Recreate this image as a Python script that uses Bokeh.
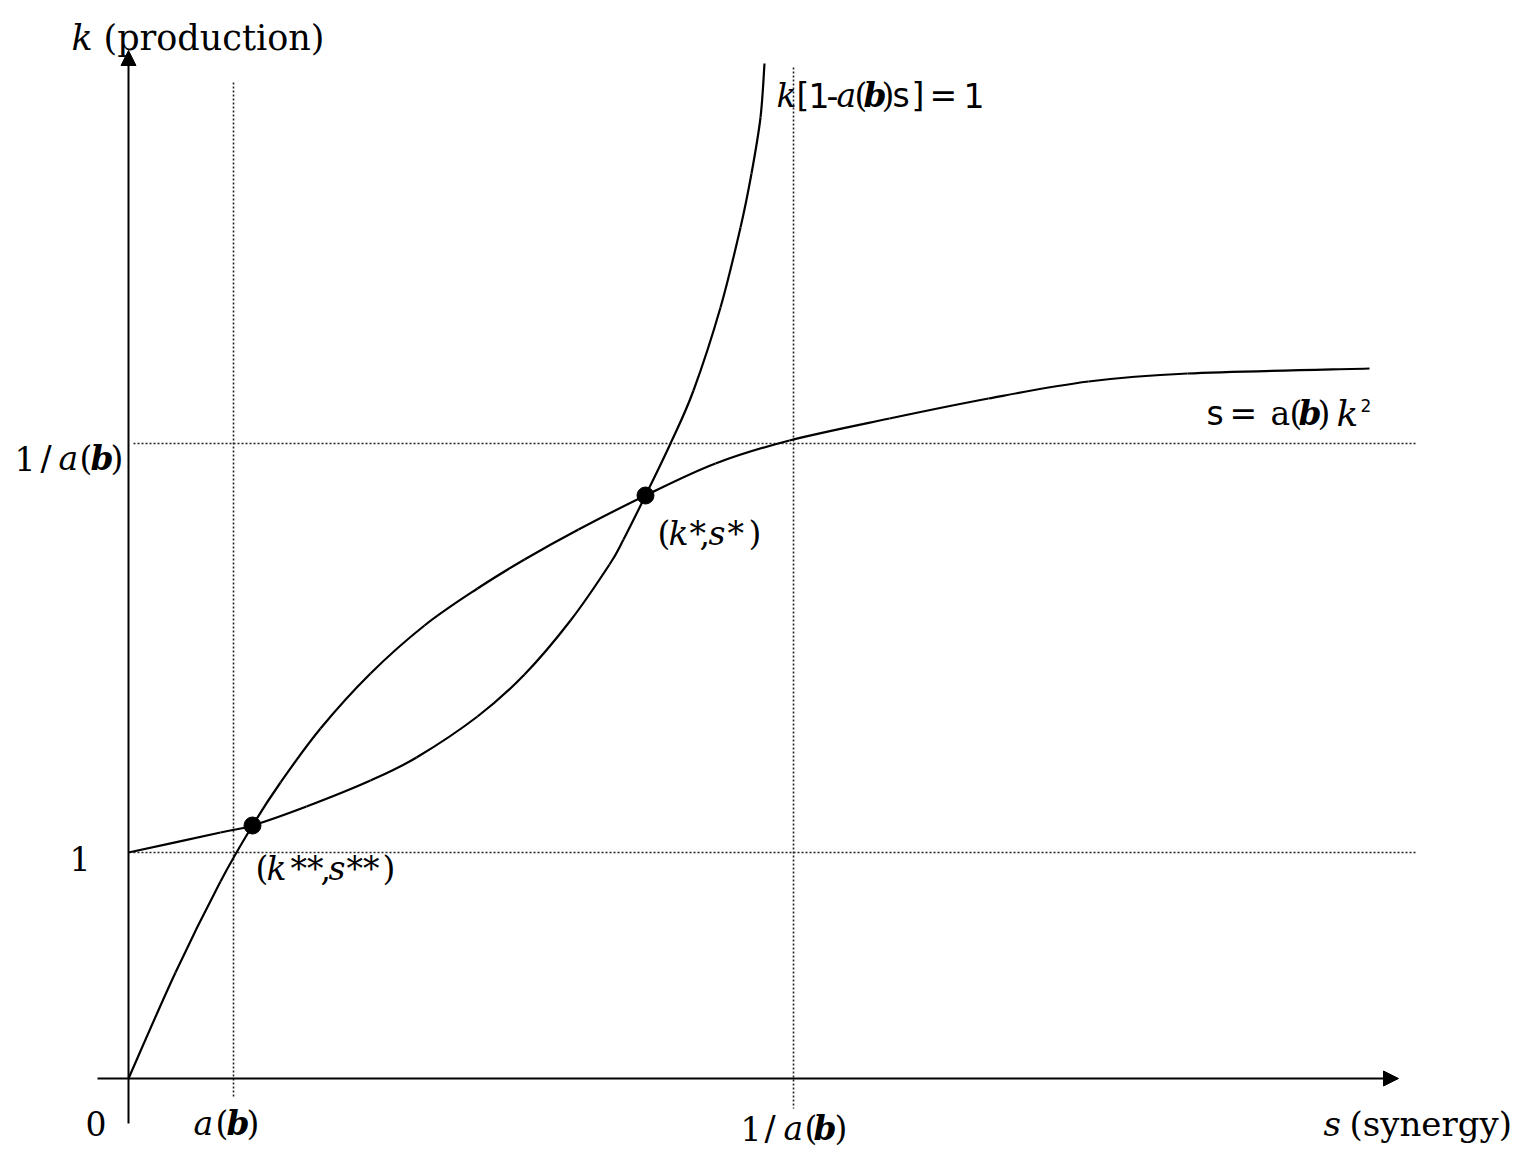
from bokeh.plotting import figure
from bokeh.models import Range1d, Arrow, NormalHead
from bokeh.core.properties import value
from bokeh.embed import file_html
from bokeh.resources import INLINE

# ---- data (s = synergy on x, k = production on y; arbitrary diagram units) ----
# curve  s = a(b) k^2
curveA_s = [0, 0.47, 0.92, 1.24, 1.52, 1.92, 2.42, 2.96, 3.49, 3.96, 4.50, 5.17,
            5.87, 6.61, 7.61, 8.60, 9.60, 10.59, 12.41]
curveA_k = [0, 1.06, 1.97, 2.53, 2.96, 3.50, 4.05, 4.53, 4.90, 5.19, 5.49, 5.83,
            6.15, 6.38, 6.60, 6.80, 6.97, 7.05, 7.10]
# curve  k[1 - a(b) s] = 1
curveB_s = [0, 0.92, 1.24, 1.78, 2.42, 2.88, 3.49, 3.96, 4.42, 4.81, 4.95, 5.17,
            5.42, 5.65, 5.92, 6.12, 6.23, 6.32, 6.36]
curveB_k = [2.26, 2.46, 2.53, 2.72, 2.98, 3.21, 3.62, 4.04, 4.58, 5.14, 5.39, 5.83,
            6.35, 6.88, 7.71, 8.51, 9.05, 9.61, 10.15]
# equilibria (k**, s**) and (k*, s*)
eq_s = [1.24, 5.17]
eq_k = [2.53, 5.83]
# reference levels
s_a_b = 1.05        # a(b) on the s axis
s_inv_a_b = 6.65    # 1/a(b) on the s axis
k_one = 2.26        # k = 1
k_inv_a_b = 6.35    # k = 1/a(b)

W, H = 1528, 1151
p = figure(width=W, height=H, output_backend="svg", toolbar_location=None,
           x_range=Range1d(-1.28, 14.00), y_range=Range1d(-0.73, 10.78),
           x_axis_location=None, y_axis_location=None, min_border=0)
p.grid.visible = False
p.outline_line_color = None
p.background_fill_color = "white"
p.border_fill_color = "white"

# dotted guide lines
dot_kw = dict(line_color="#222222", line_width=1.6, line_dash="2 2")
p.segment(x0=[s_a_b], y0=[9.96], x1=[s_a_b], y1=[-0.20], **dot_kw)
p.segment(x0=[s_inv_a_b], y0=[10.11], x1=[s_inv_a_b], y1=[-0.30], **dot_kw)
p.segment(x0=[0.05], y0=[k_inv_a_b], x1=[12.87], y1=[k_inv_a_b], **dot_kw)
p.segment(x0=[0.05], y0=[k_one], x1=[12.87], y1=[k_one], **dot_kw)

# axes with arrows
for xs, ys, xe, ye in [(0, -0.45, 0, 10.28), (-0.31, 0, 12.70, 0)]:
    p.add_layout(Arrow(x_start=xs, y_start=ys, x_end=xe, y_end=ye, line_width=2,
                       line_color="black",
                       end=NormalHead(size=15, fill_color="black", line_color="black",
                                      line_width=1)))


def smooth_curve(xs, ys):
    """Draw a smooth (Catmull-Rom style) path through the given points."""
    n = len(xs)
    px = [xs[0]] + list(xs) + [xs[-1]]
    py = [ys[0]] + list(ys) + [ys[-1]]
    x0, y0, x1, y1, cx0, cy0, cx1, cy1 = ([] for _ in range(8))
    for i in range(n - 1):
        a, b, c, d = i, i + 1, i + 2, i + 3
        x0.append(px[b]); y0.append(py[b])
        x1.append(px[c]); y1.append(py[c])
        cx0.append(px[b] + (px[c] - px[a]) / 6.0)
        cy0.append(py[b] + (py[c] - py[a]) / 6.0)
        cx1.append(px[c] - (px[d] - px[b]) / 6.0)
        cy1.append(py[c] - (py[d] - py[b]) / 6.0)
    p.bezier(x0=x0, y0=y0, x1=x1, y1=y1, cx0=cx0, cy0=cy0, cx1=cx1, cy1=cy1,
             line_color="black", line_width=2.2)


smooth_curve(curveA_s, curveA_k)
smooth_curve(curveB_s, curveB_k)
p.scatter(eq_s, eq_k, size=17, fill_color="black", line_color="black")

SERIF = "DejaVu Serif"
SANS = "DejaVu Sans"
FS = "33px"

labels = [
    # y-axis title
    (-0.57, 10.41, "k", SERIF, "italic", "35px"),
    (-0.25, 10.41, "(production)", SERIF, "normal", "35px"),
    # left ticks
    (-1.14, 6.20, "1", SERIF, "normal", FS),
    (-0.88, 6.20, "/", SANS, "normal", FS),
    (-0.70, 6.20, "a", SERIF, "italic", FS),
    (-0.49, 6.20, "(", SERIF, "normal", FS),
    (-0.38, 6.20, "b", SERIF, "bold italic", FS),
    (-0.18, 6.20, ")", SERIF, "normal", FS),
    (-0.59, 2.20, "1", SERIF, "normal", FS),
    (-0.43, -0.45, "0", SERIF, "normal", FS),
    # bottom ticks
    (0.65, -0.45, "a", SERIF, "italic", FS),
    (0.87, -0.45, "(", SERIF, "normal", FS),
    (0.98, -0.45, "b", SERIF, "bold italic", FS),
    (1.18, -0.45, ")", SERIF, "normal", FS),
    (6.12, -0.50, "1", SERIF, "normal", FS),
    (6.36, -0.50, "/", SANS, "normal", FS),
    (6.55, -0.50, "a", SERIF, "italic", FS),
    (6.76, -0.50, "(", SERIF, "normal", FS),
    (6.85, -0.50, "b", SERIF, "bold italic", FS),
    (7.06, -0.50, ")", SERIF, "normal", FS),
    # x-axis title
    (11.95, -0.45, "s", SERIF, "italic", "34px"),
    (12.21, -0.45, "(synergy)", SERIF, "normal", "34px"),
    # curve label k[1-a(b)s] = 1
    (6.48, 9.83, "k", SERIF, "italic", FS),
    (6.68, 9.83, "[", SANS, "normal", FS),
    (6.80, 9.83, "1", SANS, "normal", FS),
    (6.98, 9.83, "-", SANS, "normal", FS),
    (7.08, 9.83, "a", SERIF, "italic", FS),
    (7.26, 9.83, "(", SERIF, "normal", FS),
    (7.35, 9.83, "b", SERIF, "bold italic", FS),
    (7.53, 9.83, ")", SERIF, "normal", FS),
    (7.64, 9.83, "s", SANS, "normal", FS),
    (7.83, 9.83, "]", SANS, "normal", FS),
    (8.01, 9.83, "=", SANS, "normal", FS),
    (8.35, 9.83, "1", SANS, "normal", FS),
    # curve label s = a(b)k^2
    (10.78, 6.65, "s", SANS, "normal", FS),
    (11.01, 6.65, "=", SANS, "normal", FS),
    (11.42, 6.65, "a", SERIF, "normal", FS),
    (11.61, 6.65, "(", SERIF, "normal", FS),
    (11.70, 6.65, "b", SERIF, "bold italic", FS),
    (11.89, 6.65, ")", SERIF, "normal", FS),
    (12.08, 6.65, "k", SERIF, "italic", "36px"),
    (12.32, 6.73, "2", SANS, "normal", "17px"),
    # (k*, s*)
    (5.29, 5.45, "(", SERIF, "normal", FS),
    (5.40, 5.45, "k", SERIF, "italic", FS),
    (5.61, 5.45, "*", SERIF, "normal", FS),
    (5.71, 5.45, ",", SERIF, "normal", FS),
    (5.80, 5.45, "s", SERIF, "italic", FS),
    (5.99, 5.45, "*", SERIF, "normal", FS),
    (6.20, 5.45, ")", SERIF, "normal", FS),
    # (k**, s**)
    (1.27, 2.10, "(", SERIF, "normal", FS),
    (1.38, 2.10, "k", SERIF, "italic", FS),
    (1.62, 2.10, "**", SERIF, "normal", FS),
    (1.92, 2.10, ",", SERIF, "normal", FS),
    (2.00, 2.10, "s", SERIF, "italic", FS),
    (2.18, 2.10, "**", SERIF, "normal", FS),
    (2.54, 2.10, ")", SERIF, "normal", FS),
]

for x, y, t, font, style, size in labels:
    p.text(x=[x], y=[y], text=[t], text_font=value(font), text_font_style=style,
           text_font_size=size, text_color="black", text_align="left",
           text_baseline="alphabetic")

open("out.html", "w").write(file_html(p, INLINE))
